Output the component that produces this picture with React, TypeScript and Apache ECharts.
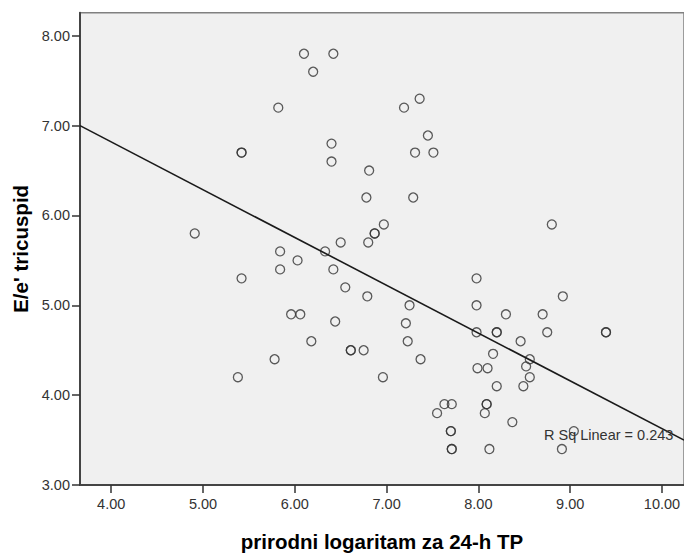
import React, { useEffect, useRef } from "react";
import * as echarts from "echarts";

// ln of 24-h TP (x) and E/e' tricuspid (y)
const lnTP = [
  6.10, 6.42, 6.20, 5.82, 7.19, 7.36, 7.45, 5.42, 5.42, 7.31, 7.51, 6.40, 6.40, 6.81, 6.78, 7.29,
  6.97, 6.87, 6.87, 6.80, 6.50, 5.84, 6.33, 6.03, 5.84, 6.42, 5.42, 6.55, 6.79, 7.25, 5.96, 6.06,
  6.44, 7.21, 6.18, 7.23, 6.61, 6.61, 6.75, 5.78, 7.37, 5.38, 6.96, 4.91, 8.80, 7.98, 8.92, 7.98,
  8.30, 8.70, 7.98, 8.20, 8.20, 8.75, 9.39, 9.39, 8.46, 8.16, 8.56, 8.52, 7.99, 8.10, 8.56, 8.20,
  8.49, 7.55, 7.63, 7.71, 7.70, 7.70, 7.71, 7.71, 8.09, 8.09, 8.07, 8.37, 8.12, 8.91, 9.04,
];
const eeTricuspid = [
  7.80, 7.80, 7.60, 7.20, 7.20, 7.30, 6.89, 6.70, 6.70, 6.70, 6.70, 6.80, 6.60, 6.50, 6.20, 6.20,
  5.90, 5.80, 5.80, 5.70, 5.70, 5.60, 5.60, 5.50, 5.40, 5.40, 5.30, 5.20, 5.10, 5.00, 4.90, 4.90,
  4.82, 4.80, 4.60, 4.60, 4.50, 4.50, 4.50, 4.40, 4.40, 4.20, 4.20, 5.80, 5.90, 5.30, 5.10, 5.00,
  4.90, 4.90, 4.70, 4.70, 4.70, 4.70, 4.70, 4.70, 4.60, 4.46, 4.40, 4.32, 4.30, 4.30, 4.20, 4.10,
  4.10, 3.80, 3.90, 3.90, 3.60, 3.60, 3.40, 3.40, 3.90, 3.90, 3.80, 3.70, 3.40, 3.40, 3.60,
];

const xTicks = [4, 5, 6, 7, 8, 9, 10];
const yTicks = [3, 4, 5, 6, 7, 8];
const xRange = [3.66, 10.24];
const yRange = [3, 8.257];

// Linear fit
const fitIntercept = 8.947;
const fitSlope = -0.532;
const rSquared = 0.243;

export default function App() {
  const ref = useRef<HTMLDivElement>(null);

  useEffect(() => {
    if (!ref.current) return;
    const chart = echarts.init(ref.current, null, { renderer: "svg" });
    const points = lnTP.map((x, i) => [x, eeTricuspid[i]]);
    const fitLine = xRange.map((x) => [x, fitIntercept + fitSlope * x]);
    const tickFont = { fontFamily: "Liberation Sans", fontSize: 14.5, color: "#333" };

    chart.setOption({
      animation: false,
      backgroundColor: "#ffffff",
      grid: {
        left: 80,
        top: 12.7,
        right: 0,
        bottom: 67,
        show: true,
        backgroundColor: "#f0f0f0",
        borderColor: "#808080",
        borderWidth: 1.5,
      },
      xAxis: {
        type: "value",
        min: xRange[0],
        max: xRange[1],
        splitLine: { show: false },
        axisLine: { show: true, onZero: false, lineStyle: { color: "#444", width: 2 } },
        axisTick: { show: true, customValues: xTicks, length: 8, lineStyle: { color: "#333", width: 1.5 } },
        axisLabel: {
          customValues: xTicks,
          formatter: (v: number) => v.toFixed(2),
          margin: 11,
          ...tickFont,
        },
        name: "prirodni logaritam za 24-h TP",
        nameLocation: "middle",
        nameGap: 46,
        nameTextStyle: { fontFamily: "Liberation Sans", fontWeight: "bold", fontSize: 20.5, color: "#000" },
      },
      yAxis: {
        type: "value",
        min: yRange[0],
        max: yRange[1],
        splitLine: { show: false },
        axisLine: { show: true, onZero: false, lineStyle: { color: "#444", width: 2 } },
        axisTick: { show: true, customValues: yTicks, length: 8, lineStyle: { color: "#333", width: 1.5 } },
        axisLabel: {
          customValues: yTicks,
          formatter: (v: number) => v.toFixed(2),
          margin: 10,
          ...tickFont,
        },
        name: "E/e' tricuspid",
        nameLocation: "middle",
        nameGap: 46,
        nameTextStyle: { fontFamily: "Liberation Sans", fontWeight: "bold", fontSize: 20.5, color: "#000" },
      },
      series: [
        {
          type: "scatter",
          data: points,
          symbol: "circle",
          symbolSize: 9,
          itemStyle: { color: "transparent", borderColor: "#333", borderWidth: 1.3 },
          silent: true,
        },
        {
          type: "line",
          data: fitLine,
          showSymbol: false,
          symbol: "none",
          lineStyle: { color: "#1a1a1a", width: 1.6 },
          silent: true,
          z: 3,
        },
      ],
      graphic: [
        {
          type: "text",
          left: 544,
          top: 427,
          style: {
            text: "R Sq Linear = " + rSquared.toFixed(3),
            fontFamily: "Liberation Sans",
            fontSize: 14.5,
            fill: "#333",
          },
          z: 10,
        },
      ],
    });

    return () => chart.dispose();
  }, []);

  return (
    <div
      ref={ref}
      style={{ position: "absolute", left: 0, top: 0, width: 684, height: 557, background: "#fff" }}
    />
  );
}
